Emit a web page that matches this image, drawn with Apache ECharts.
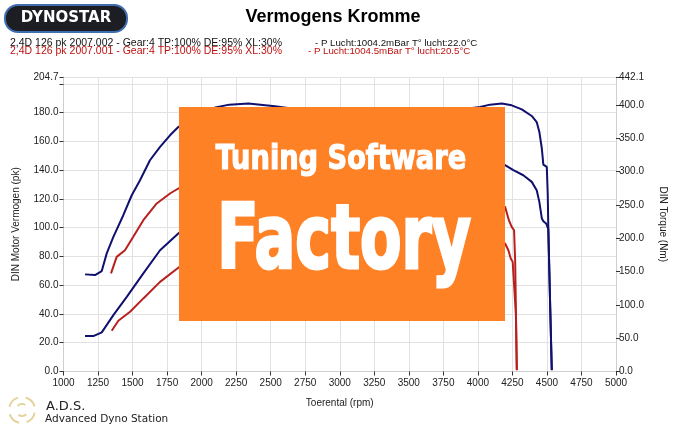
<!DOCTYPE html>
<html>
<head>
<meta charset="utf-8">
<script src="https://cdn.jsdelivr.net/npm/echarts@6/dist/echarts.min.js"></script>
<style>html,body{margin:0;padding:0;background:#fff}#c{width:685px;height:428px}</style>
</head>
<body>
<div id="c"></div>
<script>
// Blue run (2007.002): torque (Nm, right axis) and power (pk, left axis)
const blueTorqueRpm = [1156,1228,1277,1313,1361,1433,1494,1554,1626,1699,1771,1831,1900,2000,2100,2200,2338,2531,2650,2750,3000,3500,3800,3900,4016,4088,4173,4245,4318,4390,4426,4445,4463,4474,4499,4506,4510,4523,4535];
const blueTorqueNm  = [145.8,144.7,150.8,177.3,202.2,234.6,264.6,287.0,317.1,337.1,354.6,367.0,376.9,387.7,396.3,400.6,402.2,398.1,395.0,393.5,392.5,392.5,392.5,394.0,397.0,400.6,402.2,399.6,393.5,383.6,374.5,359.6,334.8,310.6,307.1,264.6,214.7,102.2,2.0];
const bluePowerRpm  = [1156,1216,1277,1361,1458,1578,1699,1831,2000,2250,2500,2750,3000,3250,3500,3750,4000,4197,4257,4329,4390,4426,4445,4463,4474,4494,4510,4523,4535];
const bluePowerPk   = [24.6,24.6,27.2,39.2,51.9,68.2,84.3,95.9,108,122,132,139,143,146,148,149,147.5,143.4,139.9,136.4,131.8,126.0,117.9,106.4,104.5,102.9,99.0,47.3,1.0];
// Red run (2007.001)
const redTorqueRpm  = [1344,1385,1445,1505,1578,1675,1771,1831,2000,2250,2500,3000,3500,4000,4197,4225,4245,4262,4270,4282];
const redTorqueNm   = [147.3,172.1,182.1,202.2,227.2,252.3,267.2,274.7,282.9,287.3,285.1,276.5,267.8,257.0,247.1,226.8,217.1,212.1,166.0,2.0];
const redPowerRpm   = [1349,1397,1482,1578,1699,1831,2000,2250,2500,2750,3000,3250,3500,3750,4000,4197,4221,4238,4252,4265,4275,4282];
const redPowerPk    = [28.3,35.3,41.5,50.8,62.3,72.1,80,88,93,96,98,99,99,97.5,94,89,84.3,78.6,76.2,75.0,40,1.0];

const leftMax = 204.7, rightMax = 442.1;
const title = 'Vermogens Kromme';
const legendLeft = ['2,4D 126 pk 2007.002 - Gear:4 TP:100% DE:95% XL:30%', '2,4D 126 pk 2007.001 - Gear:4 TP:100% DE:95% XL:30%'];
const legendRight = ['- P Lucht:1004.2mBar T° lucht:22.0°C', '- P Lucht:1004.5mBar T° lucht:20.5°C'];

function pairs(xs, ys){ return xs.map((x,i)=>[x, ys[i]]); }

const chart = echarts.init(document.getElementById('c'), null, {renderer:'canvas'});
const FONT = 'Liberation Sans, Arial, sans-serif';
const axisLbl = {fontSize:10, color:'#222', fontFamily:FONT};
const BLUE = '#10106e', RED = '#b82020';

function txt(x,y,text,font,fill,align,valign,extra,styleExtra){
  const o = {type:'text', x:x, y:y, z:200, style:Object.assign({text:text, font:font, fill:fill, align:align||'left', verticalAlign:valign||'middle', textAlign:align||'left', textVerticalAlign:valign||'middle'}, styleExtra||{})};
  return Object.assign(o, extra||{});
}
function arc(cx,cy,r,s,e){
  return {type:'arc', z:200, shape:{cx:cx,cy:cy,r:r,startAngle:s,endAngle:e}, style:{stroke:'#e3d39a', lineWidth:2, fill:null}};
}
const COND = "bold 34px 'DejaVu Sans Condensed', sans-serif";
const COND2 = "bold 92px 'DejaVu Sans Condensed', sans-serif";

chart.setOption({
  animation:false,
  backgroundColor:'#ffffff',
  grid:{left:63.5, right:69, top:77, bottom:56.5},
  xAxis:{type:'value', min:1000, max:5000, interval:250,
    name:'Toerental (rpm)', nameLocation:'middle', nameGap:27, nameTextStyle:{fontSize:10,color:'#222',fontFamily:FONT},
    axisLine:{lineStyle:{color:'#cfcfcf'}}, axisTick:{length:4, lineStyle:{color:'#333'}},
    axisLabel:Object.assign({margin:7, formatter:v=>String(v)}, axisLbl),
    splitLine:{lineStyle:{color:'#e2e2e2'}}},
  yAxis:[
    {type:'value', min:0, max:leftMax, interval:20, position:'left',
     name:'DIN Motor Vermogen (pk)', nameLocation:'middle', nameGap:42, nameRotate:90, nameTextStyle:{fontSize:10,color:'#222',fontFamily:FONT},
     axisLine:{show:true, lineStyle:{color:'#cfcfcf'}}, axisTick:{show:true, length:4, lineStyle:{color:'#333'}},
     axisLabel:Object.assign({margin:5, formatter:v=> (Math.abs(v-200)<1e-6 ? '' : v.toFixed(1))}, axisLbl),
     splitLine:{lineStyle:{color:'#e2e2e2'}}},
    {type:'value', min:0, max:rightMax, interval:50, position:'right',
     name:'DIN Torque (Nm)', nameLocation:'middle', nameGap:42, nameRotate:-90, nameTextStyle:{fontSize:10,color:'#222',fontFamily:FONT},
     axisLine:{show:true, lineStyle:{color:'#cfcfcf'}}, axisTick:{show:true, length:4, lineStyle:{color:'#333'}},
     axisLabel:Object.assign({margin:3, formatter:v=>v.toFixed(1)}, axisLbl),
     splitLine:{show:false}}
  ],
  series:[
    {type:'line', yAxisIndex:1, data:pairs(blueTorqueRpm, blueTorqueNm), showSymbol:false, lineStyle:{color:BLUE, width:2}, z:3},
    {type:'line', yAxisIndex:0, data:pairs(bluePowerRpm, bluePowerPk), showSymbol:false, lineStyle:{color:BLUE, width:2}, z:3},
    {type:'line', yAxisIndex:1, data:pairs(redTorqueRpm, redTorqueNm), showSymbol:false, lineStyle:{color:RED, width:2}, z:2},
    {type:'line', yAxisIndex:0, data:pairs(redPowerRpm, redPowerPk), showSymbol:false, lineStyle:{color:RED, width:2}, z:2}
  ],
  graphic:[
    {type:'rect', z:200, shape:{x:5,y:5,width:122,height:27,r:13}, style:{fill:'#1c1e24', stroke:'#3f6db0', lineWidth:2}},
    txt(66,18.5,'DYNOSTAR','bold 15px DejaVu Sans','#ffffff','center','middle'),
    txt(333,17,title,'bold 18px '+FONT,'#000000','center','middle'),
    txt(10,43,legendLeft[0],'10.5px '+FONT,'#111111'),
    txt(315,43,legendRight[0],'9.7px '+FONT,'#111111'),
    txt(10,51.5,legendLeft[1],'10.5px '+FONT,'#c01010'),
    txt(308,51.5,legendRight[1],'9.7px '+FONT,'#c01010'),
    {type:'rect', z:200, shape:{x:179,y:107,width:326,height:214}, style:{fill:'#ff8126'}},
    txt(341,160.5,'Tuning Software',COND,'#ffffff','center','middle',{scaleX:0.89},{stroke:'#ffffff', lineWidth:1.2}),
    txt(344,245,'Factory',COND2,'#ffffff','center','middle',{scaleX:0.73, scaleY:0.96},{stroke:'#ffffff', lineWidth:3}),
    arc(22,410,13,0.2,1.2), arc(22,410,13,1.8,2.8), arc(22,410,13,3.4,4.4), arc(22,410,13,5.0,6.0),
    arc(22,410,6,0.8,2.2), arc(22,410,6,3.9,5.3),
    txt(46,407,'A.D.S.','13px DejaVu Sans','#222222'),
    txt(45,419.5,'Advanced Dyno Station','10.5px DejaVu Sans','#222222')
  ]
});
</script>
</body>
</html>
